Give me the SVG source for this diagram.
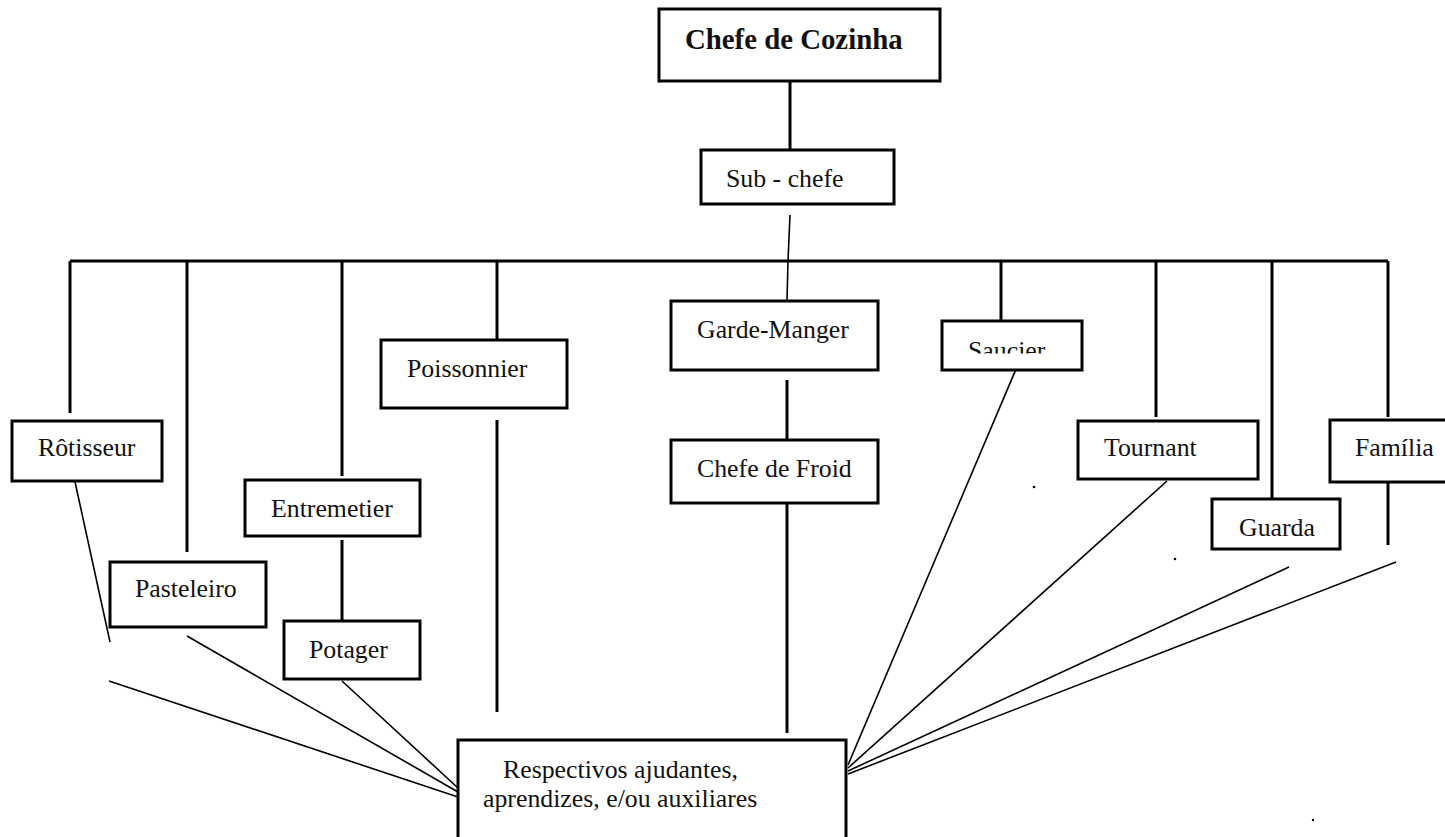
<svg xmlns="http://www.w3.org/2000/svg" width="1445" height="837" viewBox="0 0 1445 837">
<style>
.box{fill:#fff;stroke:#000;stroke-width:3}
.t{font-family:"Liberation Serif","Times New Roman","DejaVu Serif",serif;font-size:25.8px;fill:#111}
.tb{font-family:"Liberation Serif","Times New Roman","DejaVu Serif",serif;font-size:28.8px;font-weight:bold;fill:#111}
.c{stroke:#000;stroke-width:3;fill:none;stroke-linecap:butt}
.d{stroke:#000;stroke-width:1.6;fill:none}
</style>
<defs>
<clipPath id="sauclip"><rect x="940" y="320" width="145" height="33.5"/></clipPath>
</defs>
<rect width="1445" height="837" fill="#fff"/>
<g id="connectors">
<line class="c" x1="790" y1="72" x2="790" y2="150"/>
<polyline class="d" points="790,215 788,261 787,300"/>
<line class="c" x1="70" y1="261" x2="1388" y2="261"/>
<line class="c" x1="70" y1="261" x2="70" y2="413"/>
<line class="c" x1="187" y1="261" x2="187" y2="552"/>
<line class="c" x1="342" y1="261" x2="342" y2="476"/>
<line class="c" x1="497" y1="261" x2="497" y2="340"/>
<line class="c" x1="1001" y1="261" x2="1001" y2="321"/>
<line class="c" x1="1156" y1="261" x2="1156" y2="417"/>
<line class="c" x1="1272" y1="261" x2="1272" y2="499"/>
<line class="c" x1="1388" y1="261" x2="1388" y2="417"/>
<line class="c" x1="787" y1="380" x2="787" y2="440"/>
<line class="c" x1="787" y1="499" x2="787" y2="733"/>
<line class="c" x1="342" y1="540" x2="342" y2="621"/>
<line class="c" x1="497" y1="420" x2="497" y2="712"/>
<line class="c" x1="1388" y1="480" x2="1388" y2="545"/>
<line class="d" x1="72" y1="468" x2="110" y2="642"/>
<line class="d" x1="109" y1="681" x2="458" y2="797"/>
<line class="d" x1="187" y1="636" x2="458" y2="792"/>
<line class="d" x1="342" y1="681" x2="458" y2="788"/>
<line class="d" x1="1019" y1="362" x2="848" y2="765"/>
<line class="d" x1="1167" y1="481" x2="848" y2="768"/>
<line class="d" x1="1289" y1="567" x2="848" y2="771"/>
<line class="d" x1="1396" y1="562" x2="848" y2="774"/>
<circle cx="1034" cy="487" r="1.3" fill="#000"/>
<circle cx="1175" cy="559" r="1.3" fill="#000"/>
<circle cx="1313" cy="820" r="1.2" fill="#000"/>
</g>
<g id="chefe-cozinha">
<rect class="box" x="659" y="9" width="281" height="72"/>
<text class="tb" x="685" y="49">Chefe de Cozinha</text>
</g>
<g id="sub-chefe">
<rect class="box" x="701" y="150" width="193" height="54"/>
<text class="t" x="726" y="187">Sub - chefe</text>
</g>
<g id="rotisseur">
<rect class="box" x="12" y="421" width="150" height="60"/>
<text class="t" x="38" y="456">Rôtisseur</text>
</g>
<g id="pasteleiro">
<rect class="box" x="110" y="562" width="156" height="65"/>
<text class="t" x="135" y="597">Pasteleiro</text>
</g>
<g id="entremetier">
<rect class="box" x="245" y="480" width="175" height="56"/>
<text class="t" x="271" y="517">Entremetier</text>
</g>
<g id="potager">
<rect class="box" x="284" y="621" width="136" height="58"/>
<text class="t" x="309" y="658">Potager</text>
</g>
<g id="poissonnier">
<rect class="box" x="381" y="340" width="186" height="68"/>
<text class="t" x="407" y="377">Poissonnier</text>
</g>
<g id="garde-manger">
<rect class="box" x="671" y="301" width="207" height="69"/>
<text class="t" x="697" y="338">Garde-Manger</text>
</g>
<g id="chefe-froid">
<rect class="box" x="671" y="440" width="207" height="63"/>
<text class="t" x="697" y="477">Chefe de Froid</text>
</g>
<g id="saucier">
<rect class="box" x="942" y="321" width="140" height="49"/>
<text class="t" x="968" y="359" clip-path="url(#sauclip)">Saucier</text>
</g>
<g id="tournant">
<rect class="box" x="1078" y="421" width="180" height="58"/>
<text class="t" x="1104" y="456">Tournant</text>
</g>
<g id="guarda">
<rect class="box" x="1212" y="499" width="128" height="50"/>
<text class="t" x="1239" y="536">Guarda</text>
</g>
<g id="familia">
<rect class="box" x="1330" y="420" width="130" height="62"/>
<text class="t" x="1355" y="456">Família</text>
</g>
<g id="ajudantes">
<rect class="box" x="458" y="740" width="388" height="110"/>
<text class="t" x="503" y="778">Respectivos ajudantes,</text>
<text class="t" x="483" y="807">aprendizes, e/ou auxiliares</text>
</g>
</svg>
